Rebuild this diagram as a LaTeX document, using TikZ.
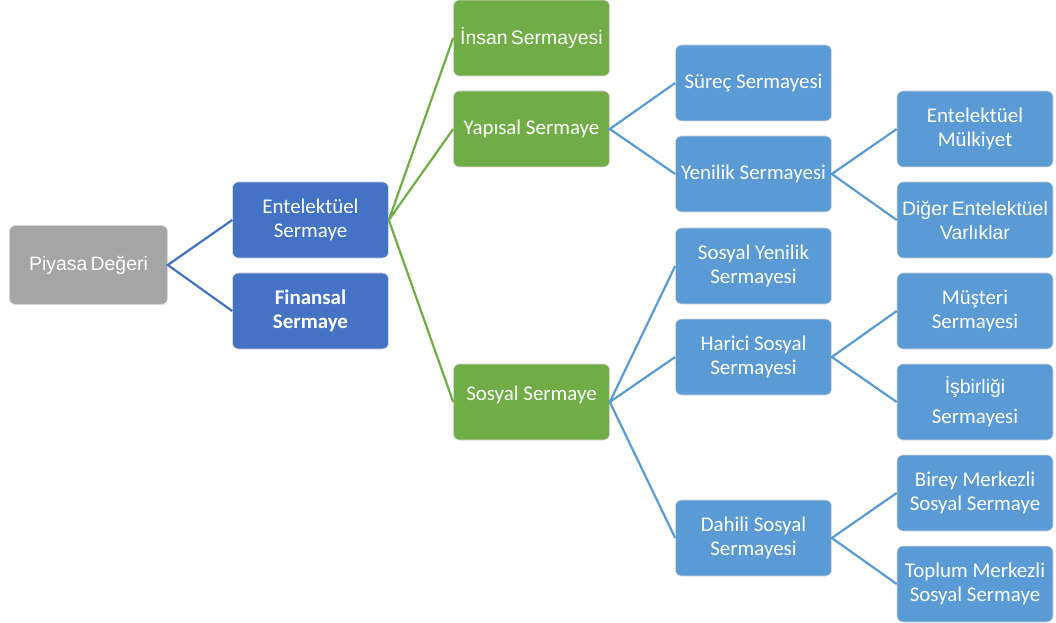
\documentclass[tikz,border=0pt]{standalone}
\usepackage{fontspec}
\setmainfont{Carlito}
\newfontfamily\arialf{Liberation Sans}
\definecolor{cgray}{HTML}{A5A5A5}
\definecolor{cdblue}{HTML}{4472C4}
\definecolor{cgreen}{HTML}{70AD47}
\definecolor{cblue}{HTML}{5B9BD5}
\newcommand{\arl}{\arialf\fontsize{19.5}{24}\selectfont}
\begin{document}
\begin{tikzpicture}[x=1bp,y=-1bp,
  box/.style={draw=white!85!black, line width=0.6bp, rounded corners=6bp, minimum width=156bp, minimum height=76bp, inner sep=1bp, align=center, text=white, font=\fontsize{21}{24}\selectfont},
  gbox/.style={box, fill=cgray, minimum width=158bp, minimum height=79bp},
  dbox/.style={box, fill=cdblue},
  grbox/.style={box, fill=cgreen},
  bbox/.style={box, fill=cblue},
  dline/.style={draw=cdblue, line width=2.2bp},
  grline/.style={draw=cgreen, line width=2.2bp},
  bline/.style={draw=cblue, line width=2.2bp}]
\useasboundingbox (0,0) rectangle (1056,623);
\node[gbox] (pd) at (88.5,265) {{\arl Piyasa\,Değeri}};
\node[dbox] (es) at (310.5,220) {Entelektüel\\Sermaye};
\node[dbox] (fs) at (310.5,311) {\textbf{Finansal}\\\textbf{Sermaye}};
\node[grbox] (is) at (531.5,38) {{\arl İnsan\,Sermayesi}};
\node[grbox] (ys) at (531.5,129) {Yapısal Sermaye};
\node[grbox, text height=14bp, text depth=17bp] (ss) at (531.5,402) {Sosyal Sermaye};
\node[bbox] (sr) at (753.5,83) {Süreç Sermayesi};
\node[bbox] (yn) at (753.5,174) {Yenilik Sermayesi};
\node[bbox] (sy) at (753.5,266) {Sosyal Yenilik\\Sermayesi};
\node[bbox] (hs) at (753.5,357) {Harici Sosyal\\Sermayesi};
\node[bbox] (ds) at (753.5,538) {Dahili Sosyal\\Sermayesi};
\node[bbox] (em) at (975,129) {Entelektüel\\Mülkiyet};
\node[bbox] (dv) at (975,220) {{\arl Diğer\,Entelektüel}\\{\arl Varlıklar}};
\node[bbox, font=\fontsize{21}{30}\selectfont] (ib) at (975,402) {{\arl İşbirliği}\\Sermayesi};
\node[bbox] (ms) at (975,311) {Müşteri\\Sermayesi};
\node[bbox] (bm) at (975,493) {Birey Merkezli\\Sosyal Sermaye};
\node[bbox] (tm) at (975,584) {Toplum Merkezli\\Sosyal Sermaye};
\draw[dline] (es.west) -- (pd.east) -- (fs.west);
\draw[grline] (is.west) -- (es.east) -- (ss.west);
\draw[grline] (es.east) -- (ys.west);
\draw[bline] (sr.west) -- (ys.east) -- (yn.west);
\draw[bline] (sy.west) -- (ss.east) -- (ds.west);
\draw[bline] (ss.east) -- (hs.west);
\draw[bline] (em.west) -- (yn.east) -- (dv.west);
\draw[bline] (ms.west) -- (hs.east) -- (ib.west);
\draw[bline] (bm.west) -- (ds.east) -- (tm.west);
\end{tikzpicture}
\end{document}
